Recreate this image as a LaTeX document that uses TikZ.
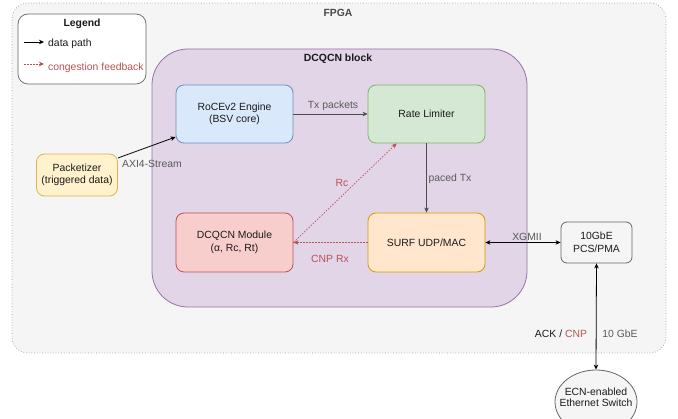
\documentclass[tikz,border=0pt]{standalone}
\usepackage{fontspec}
\setmainfont{Liberation Sans}
\usetikzlibrary{arrows.meta,shapes.geometric}
\definecolor{fpgafill}{HTML}{F5F5F5}
\definecolor{fpgaline}{HTML}{999999}
\definecolor{blockfill}{HTML}{E1D5E7}
\definecolor{blockline}{HTML}{9673A6}
\definecolor{bluefill}{HTML}{DAE8FC}
\definecolor{blueline}{HTML}{6C8EBF}
\definecolor{greenfill}{HTML}{D5E8D4}
\definecolor{greenline}{HTML}{82B366}
\definecolor{redfill}{HTML}{F8CECC}
\definecolor{redline}{HTML}{B85450}
\definecolor{orangefill}{HTML}{FFE6CC}
\definecolor{orangeline}{HTML}{D79B00}
\definecolor{yellowfill}{HTML}{FFF2CC}
\definecolor{yellowline}{HTML}{D6B656}
\definecolor{grayline}{HTML}{666666}
\definecolor{labelgray}{HTML}{5A5A5A}
\definecolor{darkline}{HTML}{4D4D4D}
\definecolor{txt}{HTML}{1A1A1A}
\begin{document}
\begin{tikzpicture}[x=1pt,y=-1pt,
  font=\fontsize{10.4}{12.6}\selectfont,
  box/.style={draw, rounded corners=8pt, align=center, text=txt, inner sep=0pt, line width=0.8pt},
  lbl/.style={text=labelgray, inner sep=1pt},
  rlbl/.style={text=redline, inner sep=1pt},
  arr/.style={-{Stealth[length=5pt,width=4.5pt,inset=1.5pt]}, line width=0.8pt},
  barr/.style={{Stealth[length=5pt,width=4.5pt,inset=1.5pt]}-{Stealth[length=5pt,width=4.5pt,inset=1.5pt]}, line width=0.8pt},
  fb/.style={-{Stealth[length=5pt,width=4.5pt,inset=1.5pt]}, draw=redline, line width=0.7pt, dash pattern=on 1.5pt off 1.5pt}
]
\useasboundingbox (0,0) rectangle (678,419);
% FPGA container
\node[draw=fpgaline, fill=fpgafill, dotted, rounded corners=16pt, minimum width=654pt, minimum height=350pt, inner sep=0pt, line width=0.7pt] (fpga) at (339,178) {};
\node[font=\fontsize{10.4}{12.6}\selectfont\bfseries, text=labelgray!80!black] (fpgalbl) at (338,13) {FPGA};
% Legend
\node[draw=grayline, fill=white, rounded corners=10pt, minimum width=128pt, minimum height=70pt, inner sep=0pt, line width=0.7pt] (legend) at (82,49) {};
\node[font=\fontsize{10.4}{12.6}\selectfont\bfseries, text=txt] (legendlbl) at (82,24) {Legend};
\coordinate (la1) at (24,42);
\coordinate (lb1) at (44,42);
\draw[arr, black] (la1) -- (lb1);
\node[anchor=west, text=txt, inner sep=0pt] (ldp) at (48,44) {data path};
\coordinate (la2) at (24,64);
\coordinate (lb2) at (44,64);
\draw[fb] (la2) -- (lb2);
\node[anchor=west, text=redline, inner sep=0pt] (lcf) at (48,68) {congestion feedback};
% DCQCN block
\node[draw=blockline, fill=blockfill, rounded corners=36pt, minimum width=375pt, minimum height=258pt, inner sep=0pt, line width=0.8pt] (blk) at (339.5,178) {};
\node[font=\fontsize{10.4}{12.6}\selectfont\bfseries, text=txt] (blklbl) at (338,59) {DCQCN block};
% Boxes
\node[box, draw=blueline, fill=bluefill, minimum width=117pt, minimum height=58pt] (roce) at (234.5,114) {RoCEv2 Engine\\(BSV core)};
\node[box, draw=greenline, fill=greenfill, minimum width=117pt, minimum height=58pt] (rl) at (426.5,114) {Rate Limiter};
\node[box, draw=redline, fill=redfill, minimum width=117pt, minimum height=59pt] (dm) at (234.5,242.5) {DCQCN Module\\(α, Rc, Rt)};
\node[box, draw=orangeline, fill=orangefill, minimum width=117pt, minimum height=59pt] (surf) at (426.5,242.5) {SURF UDP/MAC};
\node[box, draw=yellowline, fill=yellowfill, minimum width=81pt, minimum height=42pt] (pk) at (77,175) {Packetizer\\(triggered data)};
\node[box, draw=grayline, fill=fpgafill, minimum width=71pt, minimum height=41pt, rounded corners=6pt] (phy) at (596.5,242.5) {10GbE\\PCS/PMA};
\node[ellipse, draw=grayline, fill=fpgafill, minimum width=82pt, minimum height=64pt, inner sep=0pt, line width=0.8pt] (sw) at (596,402) {};
\node[align=center, text=txt, inner sep=0pt, font=\fontsize{10.4}{11.5}\selectfont] (swtxt) at (596,397.5) {ECN-enabled\\Ethernet Switch};
% Connectors
\draw[arr, black] ([yshift=17pt]pk.east) -- ([yshift=-23pt]roce.west);
\node[lbl] (laxi) at (152,164) {AXI4-Stream};
\draw[arr, darkline] (roce.east) -- (rl.west);
\node[lbl] (ltx) at (333,106) {Tx packets};
\draw[arr, darkline] (rl.south) -- (surf.north);
\node[lbl] (lpaced) at (450,179) {paced Tx};
\draw[fb] (surf.west) -- (dm.east);
\node[rlbl] (lcnp) at (330,259) {CNP Rx};
\draw[fb] (dm.east) -- ([xshift=29pt]rl.south west);
\node[rlbl] (lrc) at (342,183) {Rc};
\draw[barr, black] (surf.east) -- (phy.west);
\node[lbl] (lxg) at (527,237) {XGMII};
\draw[barr, black] (phy.south) -- (sw.north);
\node[inner sep=1pt] (lack) at (561,334) {\textcolor{txt}{ACK /} \textcolor{redline}{CNP}};
\node[lbl] (lgbe) at (620,334) {10 GbE};
\end{tikzpicture}
\end{document}
